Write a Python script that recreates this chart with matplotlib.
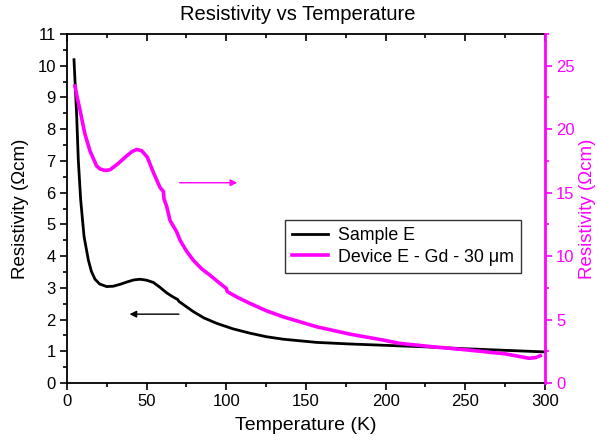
import numpy as np
import matplotlib
matplotlib.use("Agg")
import matplotlib.pyplot as plt
from matplotlib.ticker import MultipleLocator

plt.rcParams['font.family'] = ['Liberation Sans', 'DejaVu Sans']

# Sample E (left axis, Ohm cm)
temp_sample = [4.4, 6.1, 7.1, 8.6, 10.7, 13.4, 15.3, 17.6, 20.5, 24.9, 29, 33.3, 38, 42, 45.8,
               50, 54.2, 58.5, 62.6, 66, 69.5, 70.3, 74.5, 79.3, 86, 94, 104, 114.9,
               125, 135.8, 156.7, 177.6, 198.6, 209, 225, 250, 275, 300]
res_sample = [10.19, 8.4, 7.03, 5.77, 4.62, 3.88, 3.52, 3.27, 3.12, 3.04, 3.05, 3.11, 3.19,
              3.25, 3.27, 3.24, 3.17, 3.01, 2.84, 2.73, 2.63, 2.57, 2.42, 2.25, 2.05, 1.88,
              1.71, 1.57, 1.46, 1.38, 1.28, 1.23, 1.19, 1.17, 1.14, 1.08, 1.03, 0.98]

# Device E - Gd - 30 um (right axis, Ohm cm)
temp_device = [5.0, 6.6, 8.2, 9.8, 11.3, 14.4, 18.6, 21, 23.9, 27, 32.2, 37.5, 41, 43.8,
               46.9, 50.4, 54.2, 58.4, 60.5, 60.9, 62.6, 64.7, 68.9, 71, 75, 79.3, 84.5,
               89.8, 95, 100, 100.6, 107, 114.9, 125, 135.8, 156.7, 177.6, 198.6, 209,
               230, 250, 275, 290, 294, 297]
res_device = [23.4, 22.4, 21.5, 20.5, 19.6, 18.3, 17.1, 16.85, 16.75, 16.8, 17.3, 17.9, 18.25,
              18.4, 18.3, 17.8, 16.6, 15.4, 15.1, 14.5, 13.9, 12.8, 11.9, 11.24, 10.4, 9.67,
              9.0, 8.49, 7.95, 7.45, 7.2, 6.75, 6.27, 5.7, 5.21, 4.43, 3.85, 3.38, 3.12,
              2.85, 2.62, 2.3, 1.95, 2.0, 2.15]

magenta = '#ff00ff'

fig = plt.figure(figsize=(5.97, 4.45), dpi=100)
ax = fig.add_axes([0.1122, 0.1393, 0.8007, 0.7843])
ax2 = ax.twinx()

l1, = ax.plot(temp_sample, res_sample, color='black', lw=2, label='Sample E')
l2, = ax2.plot(temp_device, res_device, color=magenta, lw=2.6, label='Device E - Gd - 30 μm')

ax.set_xlim(0, 300)
ax.set_ylim(0, 11)
ax2.set_ylim(0, 27.5)

ax.xaxis.set_major_locator(MultipleLocator(50))
ax.xaxis.set_minor_locator(MultipleLocator(25))
ax.yaxis.set_major_locator(MultipleLocator(1))
ax.yaxis.set_minor_locator(MultipleLocator(0.5))
ax2.yaxis.set_major_locator(MultipleLocator(5))
ax2.yaxis.set_minor_locator(MultipleLocator(2.5))

ax.tick_params(axis='both', which='major', direction='out', length=5, width=1.2,
               labelsize=12, top=True, right=False, pad=3)
ax.tick_params(axis='both', which='minor', direction='out', length=3, width=1.2,
               top=True, right=False)
# top ticks point inward
for t in ax.xaxis.get_major_ticks() + ax.xaxis.get_minor_ticks():
    t.tick2line.set_marker(3)

ax2.tick_params(axis='y', which='major', direction='out', length=5, width=1.2,
                colors=magenta, labelsize=12, pad=3)
ax2.tick_params(axis='y', which='minor', direction='out', length=3, width=1.2, colors=magenta)

for side in ['left', 'bottom', 'top']:
    ax.spines[side].set_linewidth(1.3)
ax2.spines['right'].set_color(magenta)
ax2.spines['right'].set_linewidth(2)
ax.spines['right'].set_visible(False)
for side in ['left', 'bottom', 'top']:
    ax2.spines[side].set_visible(False)

ax.set_xlabel('Temperature (K)', fontsize=14, labelpad=6)
ax.set_ylabel('Resistivity (Ωcm)', fontsize=13.5, labelpad=6)
ax2.set_ylabel('Resistivity (Ωcm)', fontsize=13.5, color=magenta, labelpad=3)
fig.text(0.498, 0.955, 'Resistivity vs Temperature', fontsize=14.5, ha='center', va='baseline')

# arrows pointing at each axis
ax2.annotate('', xy=(108.6, 15.78), xytext=(68.9, 15.78),
             arrowprops=dict(arrowstyle='-|>', color=magenta, lw=1, mutation_scale=10))
ax.annotate('', xy=(37.5, 2.17), xytext=(72, 2.17),
            arrowprops=dict(arrowstyle='-|>', color='black', lw=1, mutation_scale=10))

leg = ax2.legend(handles=[l1, l2], loc='upper left', bbox_to_anchor=(0.456, 0.467),
                 fontsize=12.8, frameon=True, fancybox=False, edgecolor='black',
                 handlelength=2.0, borderpad=0.4, labelspacing=0.25, handletextpad=0.6,
                 borderaxespad=0)
leg.get_frame().set_linewidth(1)

fig.savefig('out.png', dpi=100)
